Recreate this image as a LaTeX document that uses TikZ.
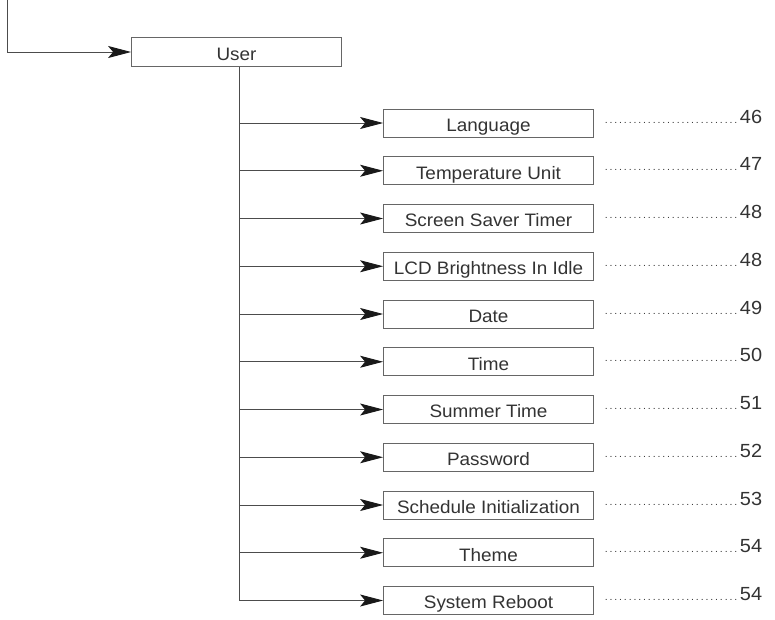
\documentclass[tikz,border=0pt]{standalone}
\usepackage{fontspec}
\setmainfont[FakeStretch=1.05]{Liberation Sans}
\usetikzlibrary{arrows.meta, positioning}

% dotted leader plus page number
\newcommand{\pagedots}[1]{\hbox to 159pt{\cleaders\hbox to 4.8pt{\hss\fontsize{10}{10}\selectfont.\hss}\hfill
  \kern1pt{\fontsize{19}{20}\selectfont#1}}}

\begin{document}
\begin{tikzpicture}[
  x=1pt, y=1pt,
  font=\fontsize{18}{20}\selectfont, text=black!80,
  box/.style={draw=black!60, line width=0.8pt, inner sep=0pt,
              minimum height=28pt, minimum width=210pt,
              text height=16.6pt, text depth=0pt, align=center},
  item/.style={box, below=18.95pt of #1},
  flow/.style={-{Stealth[length=23pt, width=12pt, inset=5pt, color=black!90]}, draw=black!70, line width=0.9pt},
  trunk/.style={draw=black!70, line width=0.9pt},
  page/.style={anchor=base west, inner sep=0pt, xshift=9pt},
]
\useasboundingbox (0,0) rectangle (775,-619);

\coordinate (in) at (7,0);
\node[box, minimum height=29.5pt, text height=17pt] (user) at (236.5,-52) {User};

\node[box] (lang) at (488.5,-123) {Language};
\node[item=lang]   (unit)   {Temperature Unit};
\node[item=unit]   (saver)  {Screen Saver Timer};
\node[item=saver]  (lcd)    {LCD Brightness In Idle};
\node[item=lcd]    (date)   {Date};
\node[item=date]   (time)   {Time};
\node[item=time]   (summer) {Summer Time};
\node[item=summer] (pass)   {Password};
\node[item=pass]   (sched)  {Schedule Initialization};
\node[item=sched]  (theme)  {Theme};
\node[item=theme]  (reboot) {System Reboot};

\node[page] at (lang.east)   {\pagedots{46}};
\node[page] at (unit.east)   {\pagedots{47}};
\node[page] at (saver.east)  {\pagedots{48}};
\node[page] at (lcd.east)    {\pagedots{48}};
\node[page] at (date.east)   {\pagedots{49}};
\node[page] at (time.east)   {\pagedots{50}};
\node[page] at (summer.east) {\pagedots{51}};
\node[page] at (pass.east)   {\pagedots{52}};
\node[page] at (sched.east)  {\pagedots{53}};
\node[page] at (theme.east)  {\pagedots{54}};
\node[page] at (reboot.east) {\pagedots{54}};

\draw[flow] (in) |- (user.west);
\draw[trunk] ([xshift=2.5pt]user.south) -- ([xshift=2.5pt]user.south |- reboot.west);

\draw[flow] ([xshift=2.5pt]user.south |- lang.west)   -- (lang.west);
\draw[flow] ([xshift=2.5pt]user.south |- unit.west)   -- (unit.west);
\draw[flow] ([xshift=2.5pt]user.south |- saver.west)  -- (saver.west);
\draw[flow] ([xshift=2.5pt]user.south |- lcd.west)    -- (lcd.west);
\draw[flow] ([xshift=2.5pt]user.south |- date.west)   -- (date.west);
\draw[flow] ([xshift=2.5pt]user.south |- time.west)   -- (time.west);
\draw[flow] ([xshift=2.5pt]user.south |- summer.west) -- (summer.west);
\draw[flow] ([xshift=2.5pt]user.south |- pass.west)   -- (pass.west);
\draw[flow] ([xshift=2.5pt]user.south |- sched.west)  -- (sched.west);
\draw[flow] ([xshift=2.5pt]user.south |- theme.west)  -- (theme.west);
\draw[flow] ([xshift=2.5pt]user.south |- reboot.west) -- (reboot.west);

\end{tikzpicture}
\end{document}
